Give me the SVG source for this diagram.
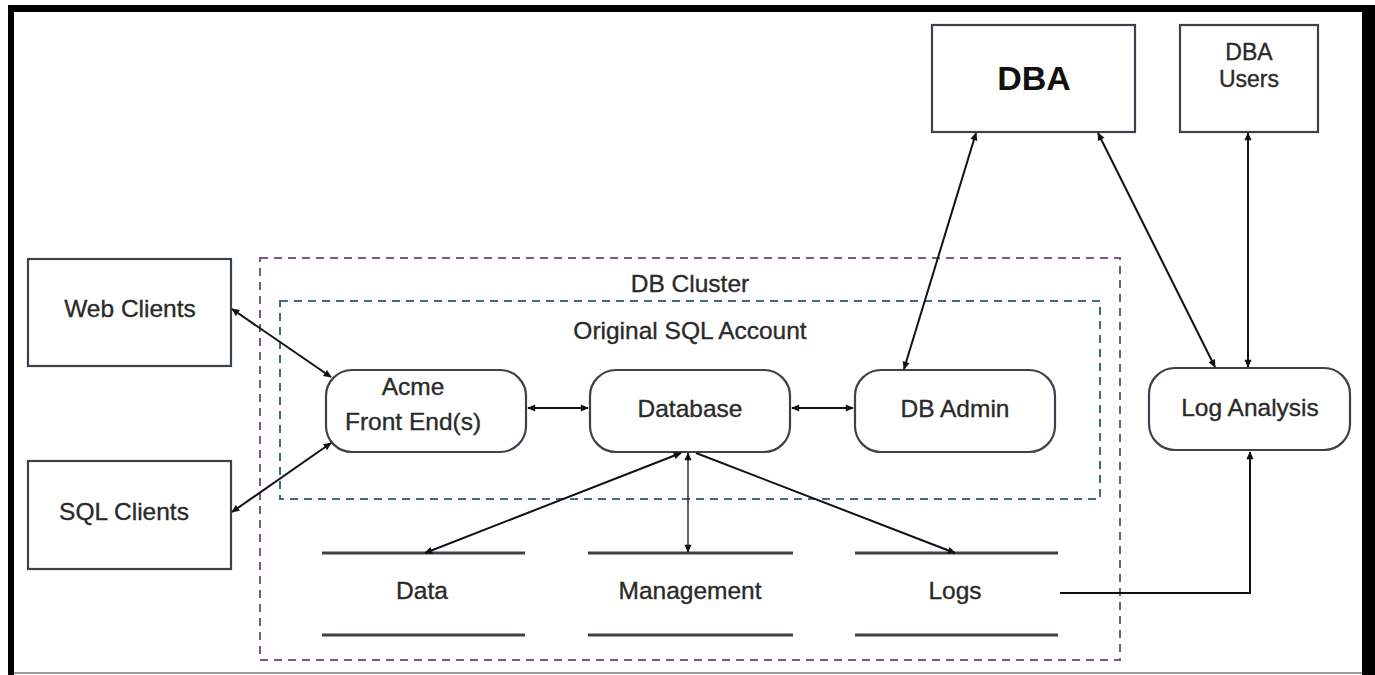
<svg xmlns="http://www.w3.org/2000/svg" width="1375" height="675" viewBox="0 0 1375 675">
<defs>
<marker id="ah" viewBox="0 0 10 10" refX="9" refY="5" markerWidth="9" markerHeight="8" markerUnits="userSpaceOnUse" orient="auto-start-reverse">
<path d="M0,0.5 L10,5 L0,9.5 z" fill="#111"/>
</marker>
<style>
.box{fill:#fff;stroke:#3b4249;stroke-width:2.2}
.t{font-family:"Liberation Sans",Arial,sans-serif;font-size:24.5px;fill:#2a2a2a;stroke:#2a2a2a;stroke-width:0.35;text-anchor:middle}
.c{fill:none;stroke:#111;stroke-width:2}
.thin{fill:none;stroke:#111;stroke-width:1.3}
.store{stroke:#3b4249;stroke-width:3}
</style>
</defs>
<rect width="1375" height="675" fill="#fff"/>
<g id="frame">
<rect x="8" y="5" width="1367" height="7" fill="#000"/>
<rect x="8" y="5" width="6" height="670" fill="#000"/>
<rect x="1362" y="5" width="13" height="670" fill="#000"/>
<line x1="14" y1="673" x2="1362" y2="673" stroke="#999" stroke-width="2"/>
</g>
<g id="db-cluster">
<rect x="260" y="258" width="860" height="402" fill="none" stroke="#7a5a7e" stroke-width="2" stroke-dasharray="8,6"/>
<text class="t" x="690" y="292">DB Cluster</text>
</g>
<g id="original-sql-account">
<rect x="280" y="301" width="820" height="198" fill="none" stroke="#3f6e80" stroke-width="2" stroke-dasharray="8,6"/>
<text class="t" x="690" y="339">Original SQL Account</text>
</g>
<g id="dba">
<rect class="box" x="932" y="25" width="203" height="107"/>
<text x="1034" y="90" font-family="Liberation Sans,Arial,sans-serif" font-size="34" font-weight="bold" fill="#111" text-anchor="middle">DBA</text>
</g>
<g id="dba-users">
<rect class="box" x="1180" y="25" width="138" height="107"/>
<text class="t" x="1249" y="60" style="font-size:23px">DBA</text>
<text class="t" x="1249" y="87" style="font-size:23px">Users</text>
</g>
<g id="web-clients">
<rect class="box" x="28" y="259" width="203" height="107"/>
<text class="t" x="130" y="317">Web Clients</text>
</g>
<g id="sql-clients">
<rect class="box" x="28" y="461" width="203" height="108"/>
<text class="t" x="124" y="520">SQL Clients</text>
</g>
<g id="acme">
<rect class="box" x="326" y="370" width="200" height="82" rx="26"/>
<text class="t" x="413" y="395">Acme</text>
<text class="t" x="413" y="430">Front End(s)</text>
</g>
<g id="database">
<rect class="box" x="590" y="370" width="200" height="82" rx="26"/>
<text class="t" x="690" y="417">Database</text>
</g>
<g id="db-admin">
<rect class="box" x="855" y="370" width="200" height="82" rx="26"/>
<text class="t" x="955" y="417">DB Admin</text>
</g>
<g id="log-analysis">
<rect class="box" x="1149" y="368" width="201" height="82" rx="26"/>
<text class="t" x="1250" y="416">Log Analysis</text>
</g>
<g id="data">
<line class="store" x1="322" y1="553" x2="525" y2="553"/>
<line class="store" x1="322" y1="635" x2="525" y2="635"/>
<text class="t" x="422" y="599">Data</text>
</g>
<g id="management">
<line class="store" x1="588" y1="553" x2="793" y2="553"/>
<line class="store" x1="588" y1="635" x2="793" y2="635"/>
<text class="t" x="690" y="599">Management</text>
</g>
<g id="logs">
<line class="store" x1="855" y1="553" x2="1058" y2="553"/>
<line class="store" x1="855" y1="635" x2="1058" y2="635"/>
<text class="t" x="955" y="599">Logs</text>
</g>
<g id="connectors">
<line class="c" x1="232" y1="309" x2="331" y2="377" marker-start="url(#ah)" marker-end="url(#ah)"/>
<line class="c" x1="232" y1="512" x2="331" y2="443" marker-start="url(#ah)" marker-end="url(#ah)"/>
<line class="c" x1="528" y1="408" x2="588" y2="408" marker-start="url(#ah)" marker-end="url(#ah)"/>
<line class="c" x1="792" y1="408" x2="853" y2="408" marker-start="url(#ah)" marker-end="url(#ah)"/>
<line class="c" x1="904" y1="369" x2="976" y2="133" marker-start="url(#ah)" marker-end="url(#ah)"/>
<line class="c" x1="1098" y1="133" x2="1215" y2="367" marker-start="url(#ah)" marker-end="url(#ah)"/>
<line class="c" x1="1248" y1="133" x2="1248" y2="367" marker-start="url(#ah)" marker-end="url(#ah)"/>
<line class="c" x1="681" y1="453" x2="425" y2="553" marker-start="url(#ah)" marker-end="url(#ah)"/>
<line class="thin" x1="688" y1="453" x2="688" y2="552" marker-start="url(#ah)" marker-end="url(#ah)"/>
<line class="c" x1="696" y1="453" x2="955" y2="553" marker-end="url(#ah)"/>
<polyline class="c" points="1060,593 1250,593 1250,452" marker-end="url(#ah)"/>
</g>
</svg>
